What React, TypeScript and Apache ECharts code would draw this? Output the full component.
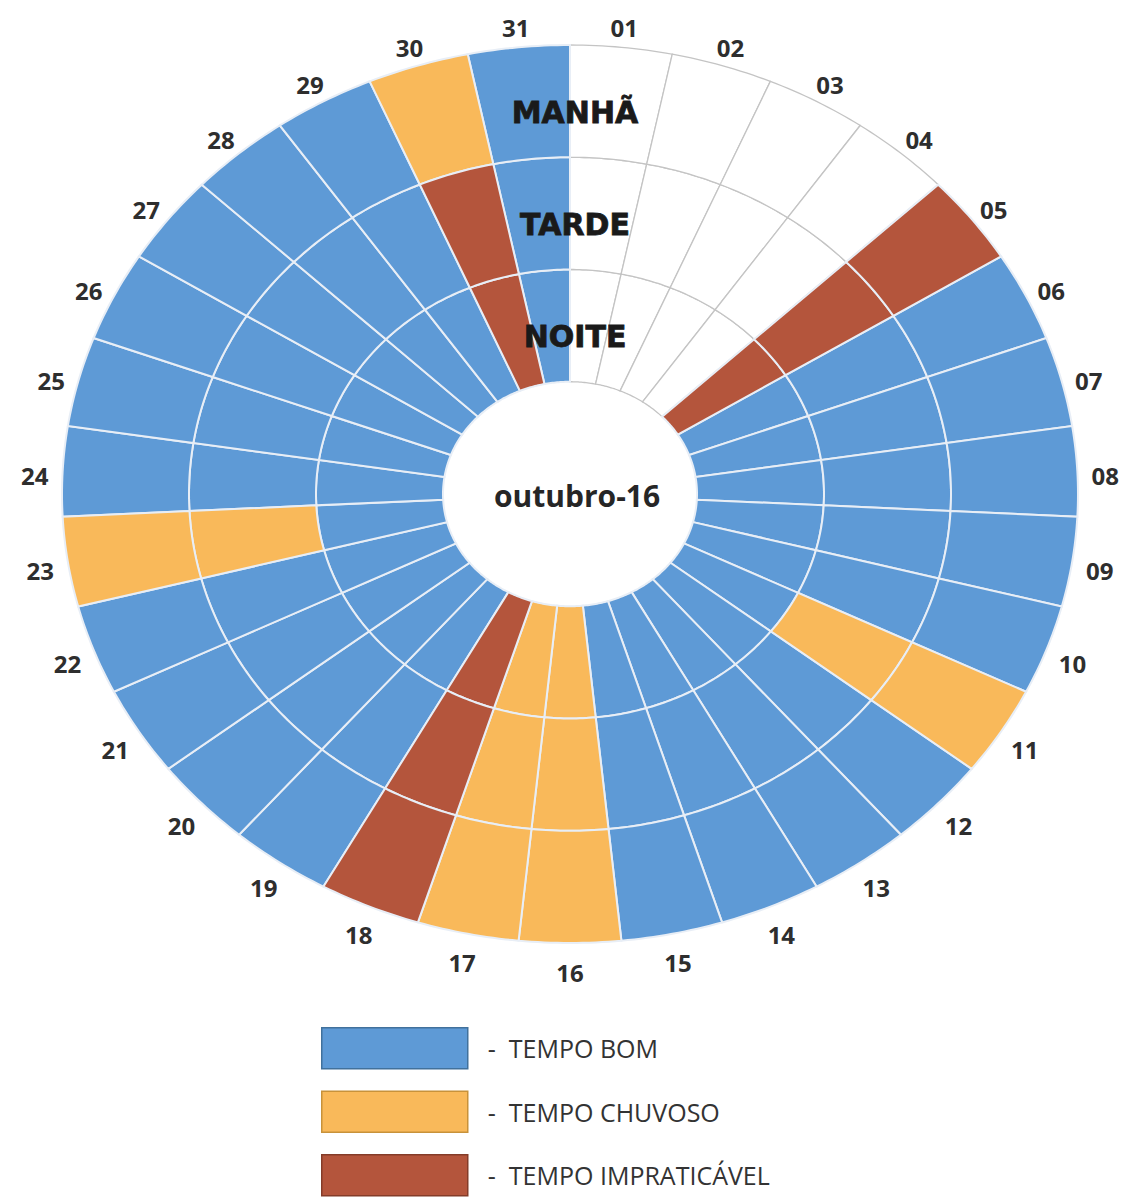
import React, { useEffect, useRef } from "react";
import * as echarts from "echarts";

// ---------- data ----------
const days = [
  "01", "02", "03", "04", "05", "06", "07", "08", "09", "10",
  "11", "12", "13", "14", "15", "16", "17", "18", "19", "20",
  "21", "22", "23", "24", "25", "26", "27", "28", "29", "30", "31",
];
// B = tempo bom, C = tempo chuvoso, I = tempo impraticável, "" = sem registo
const manha = [
  "", "", "", "", "I", "B", "B", "B", "B", "B",
  "C", "B", "B", "B", "B", "C", "C", "I", "B", "B",
  "B", "B", "C", "B", "B", "B", "B", "B", "B", "C", "B",
];
const tarde = [
  "", "", "", "", "I", "B", "B", "B", "B", "B",
  "C", "B", "B", "B", "B", "C", "C", "I", "B", "B",
  "B", "B", "C", "B", "B", "B", "B", "B", "B", "I", "B",
];
const noite = [
  "", "", "", "", "I", "B", "B", "B", "B", "B",
  "B", "B", "B", "B", "B", "C", "C", "I", "B", "B",
  "B", "B", "B", "B", "B", "B", "B", "B", "B", "I", "B",
];
const periods = ["NOITE", "TARDE", "MANHÃ"]; // inner -> outer
const periodValues = [noite, tarde, manha];
const statusKeys = ["B", "C", "I"];
const statusNames = ["TEMPO BOM", "TEMPO CHUVOSO", "TEMPO IMPRATICÁVEL"];
const monthLabel = "outubro-16";

// ---------- styles ----------
const statusColors = ["#5E9AD6", "#F9B95A", "#B4553C"];
const statusBorders = ["#41719C", "#C8923A", "#843C29"];
const HOLE = 0.25;
const RING = 0.25;
const LABEL_R = 1.055;
const N_DAYS = days.length;

function cellPoints(api: any, d: number, ri: number) {
  const r0 = HOLE + ri * RING;
  const r1 = r0 + RING;
  const a0 = (d * 2 * Math.PI) / N_DAYS;
  const a1 = ((d + 1) * 2 * Math.PI) / N_DAYS;
  const steps = 16;
  const pts: number[][] = [];
  for (let k = 0; k <= steps; k++) {
    const a = a0 + ((a1 - a0) * k) / steps;
    pts.push(api.coord([r1 * Math.sin(a), r1 * Math.cos(a)]));
  }
  for (let k = steps; k >= 0; k--) {
    const a = a0 + ((a1 - a0) * k) / steps;
    pts.push(api.coord([r0 * Math.sin(a), r0 * Math.cos(a)]));
  }
  return pts;
}

export default function App() {
  const ref = useRef<HTMLDivElement>(null);

  useEffect(() => {
    if (!ref.current) return;
    document.body.style.margin = "0";
    const chart = echarts.init(ref.current, undefined, { renderer: "svg" });

    const cells: Record<string, number[][]> = { "": [], B: [], C: [], I: [] };
    periodValues.forEach((arr, ri) => {
      arr.forEach((s, d) => {
        cells[s].push([d, ri]);
      });
    });

    const emptySeries = {
      type: "custom",
      name: "vazio",
      z: 1,
      silent: true,
      clip: false,
      data: cells[""],
      renderItem: (params: any, api: any) => ({
        type: "polygon",
        shape: { points: cellPoints(api, api.value(0), api.value(1)) },
        style: { fill: "#FFFFFF", stroke: "#C4C4C4", lineWidth: 1.3 },
      }),
    };

    const statusSeries = statusKeys.map((k, si) => ({
      type: "custom",
      name: statusNames[si],
      z: 2,
      silent: true,
      clip: false,
      itemStyle: { color: statusColors[si] },
      data: cells[k],
      renderItem: (params: any, api: any) => ({
        type: "polygon",
        shape: { points: cellPoints(api, api.value(0), api.value(1)) },
        style: { fill: statusColors[si], stroke: "#E8EEF6", lineWidth: 2 },
      }),
    }));

    const dayLabelSeries = {
      type: "custom",
      name: "dias",
      z: 3,
      silent: true,
      clip: false,
      data: days.map((_, i) => [i, 0]),
      renderItem: (params: any, api: any) => {
        const i = api.value(0);
        const a = ((i + 0.5) * 2 * Math.PI) / N_DAYS;
        const p = api.coord([LABEL_R * Math.sin(a), LABEL_R * Math.cos(a)]);
        return {
          type: "text",
          x: p[0],
          y: p[1] + 5,
          style: {
            text: days[i],
            fill: "#2E2E2E",
            fontSize: 24,
            fontWeight: "bold",
            fontFamily: "Open Sans",
            align: "center",
            verticalAlign: "middle",
          },
        };
      },
    };

    const periodLabelSeries = {
      type: "custom",
      name: "periodos",
      z: 4,
      silent: true,
      clip: false,
      data: periods.map((_, i) => [i, 0]),
      renderItem: (params: any, api: any) => {
        const i = api.value(0);
        const r = HOLE + (i + 0.5) * RING - 0.025;
        const p = api.coord([0, r]);
        return {
          type: "text",
          x: p[0] + 5,
          y: p[1],
          style: {
            text: periods[i],
            fill: "#1A1A1A",
            fontSize: 30,
            fontWeight: "bold",
            fontFamily: "DejaVu Sans",
            align: "center",
            verticalAlign: "middle",
            stroke: "#1A1A1A",
            lineWidth: 0.8,
          },
        };
      },
    };

    const centerSeries = {
      type: "custom",
      name: "mes",
      z: 4,
      silent: true,
      clip: false,
      data: [[0, 0]],
      renderItem: (params: any, api: any) => {
        const p = api.coord([0, 0]);
        return {
          type: "text",
          x: p[0] + 7,
          y: p[1] + 1,
          style: {
            text: monthLabel,
            fill: "#262626",
            fontSize: 30,
            fontWeight: "bold",
            fontFamily: "Open Sans",
            align: "center",
            verticalAlign: "middle",
          },
        };
      },
    };

    chart.setOption({
      animation: false,
      backgroundColor: "#FFFFFF",
      grid: { left: 62, top: 45, width: 1016, height: 898 },
      xAxis: { type: "value", min: -1, max: 1, show: false },
      yAxis: { type: "value", min: -1, max: 1, show: false },
      legend: {
        orient: "vertical",
        left: 321,
        top: 1027,
        width: 600,
        height: 240,
        padding: 0,
        icon: "rect",
        itemWidth: 146,
        itemHeight: 41,
        itemGap: 21,
        selectedMode: false,
        data: statusNames.map((n, i) => ({
          name: n,
          itemStyle: { color: statusColors[i], borderColor: statusBorders[i], borderWidth: 1.5 },
        })),
        formatter: (name: string) => `{g|}-  ${name}`,
        textStyle: {
          fontSize: 25,
          fontFamily: "Open Sans",
          color: "#333333",
          rich: { g: { width: 15 } },
        },
      },
      series: [emptySeries, ...statusSeries, dayLabelSeries, periodLabelSeries, centerSeries],
    });

    return () => chart.dispose();
  }, []);

  return <div ref={ref} style={{ width: 1128, height: 1201 }} />;
}
